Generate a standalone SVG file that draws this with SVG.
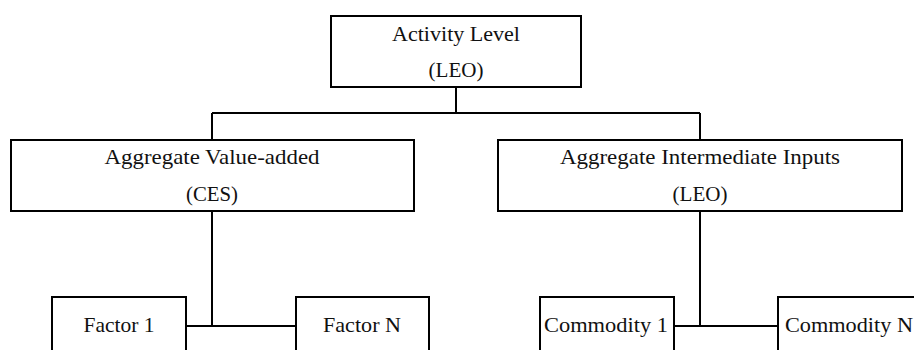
<svg xmlns="http://www.w3.org/2000/svg" width="914" height="350" viewBox="0 0 914 350">
<style>
.box{fill:#fff;stroke:#000;stroke-width:2}
.ln{stroke:#000;stroke-width:2;fill:none}
text{font-family:"Liberation Serif","Times New Roman",serif;font-size:21.5px;fill:#111;text-anchor:middle}
</style>
<rect width="914" height="350" fill="#fff"/>
<g id="connectors">
<path class="ln" d="M456 87V113M212 113H700M212 113V140M700 113V140"/>
<path class="ln" d="M212 211V326M186 326H296"/>
<path class="ln" d="M700 211V326M674 326H778"/>
</g>
<g id="activity">
<rect class="box" x="331" y="16" width="250" height="71"/>
<text x="456" y="41" textLength="128" lengthAdjust="spacingAndGlyphs">Activity Level</text>
<text x="456" y="77" textLength="55" lengthAdjust="spacingAndGlyphs">(LEO)</text>
</g>
<g id="valueadded">
<rect class="box" x="11" y="140" width="403" height="71"/>
<text x="212" y="164" textLength="215" lengthAdjust="spacingAndGlyphs">Aggregate Value-added</text>
<text x="212" y="201" textLength="52" lengthAdjust="spacingAndGlyphs">(CES)</text>
</g>
<g id="intermediate">
<rect class="box" x="498" y="140" width="404" height="71"/>
<text x="700" y="164" textLength="280" lengthAdjust="spacingAndGlyphs">Aggregate Intermediate Inputs</text>
<text x="700" y="201" textLength="55" lengthAdjust="spacingAndGlyphs">(LEO)</text>
</g>
<g id="factor1">
<rect class="box" x="52" y="297" width="134" height="70"/>
<text x="119" y="332" textLength="71" lengthAdjust="spacingAndGlyphs">Factor 1</text>
</g>
<g id="factorN">
<rect class="box" x="296" y="297" width="133" height="70"/>
<text x="362" y="332" textLength="78" lengthAdjust="spacingAndGlyphs">Factor N</text>
</g>
<g id="commodity1">
<rect class="box" x="540" y="297" width="134" height="70"/>
<text x="606" y="332" textLength="124" lengthAdjust="spacingAndGlyphs">Commodity 1</text>
</g>
<g id="commodityN">
<rect class="box" x="778" y="297" width="160" height="70"/>
<text x="785" y="332" style="text-anchor:start" textLength="128" lengthAdjust="spacingAndGlyphs">Commodity N</text>
</g>
</svg>
